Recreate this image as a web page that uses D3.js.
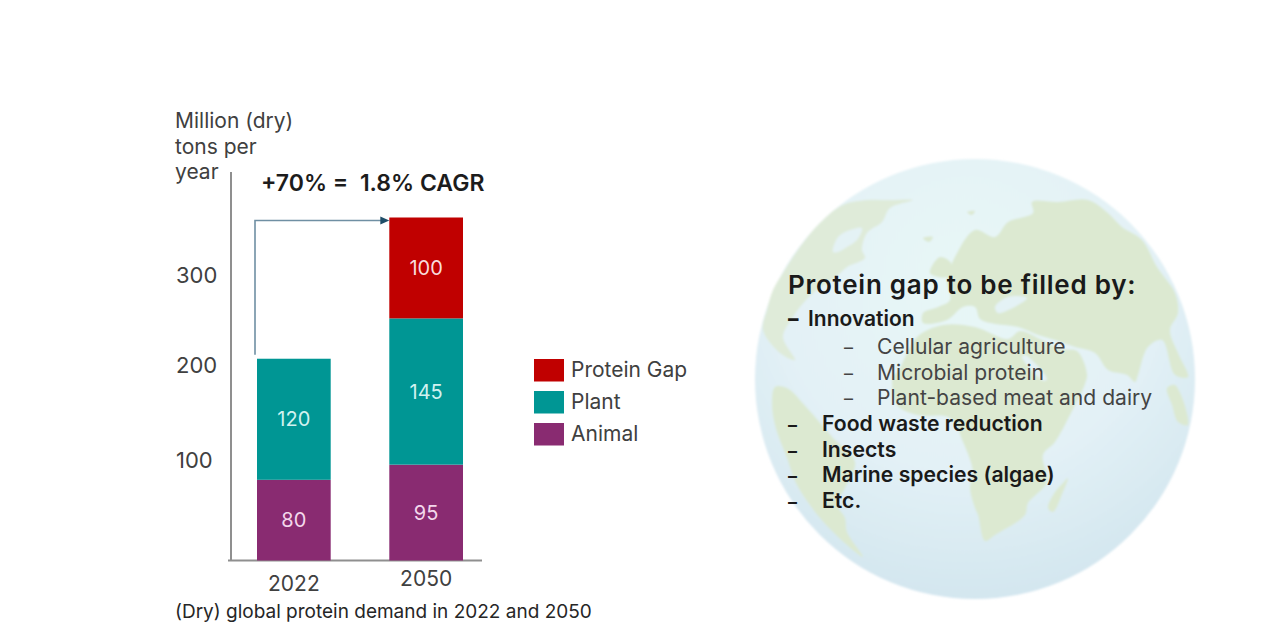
<!DOCTYPE html>
<html>
<head>
<meta charset="utf-8">
<script src="https://cdn.jsdelivr.net/npm/d3@7"></script>
<style>
  html, body { margin: 0; background: #fff; }
  text { font-family: Inter, "Open Sans", sans-serif; }
</style>
</head>
<body>
<svg id="chart"></svg>
<script>
const WIDTH = 1280;
const HEIGHT = 641;

// chart data
const years = ['2022', '2050'];
const seriesNames = ['Animal', 'Plant', 'Protein Gap'];
const animal = [80, 95];
const plant = [120, 145];
const proteinGap = [0, 100];
const yTicks = [100, 200, 300];
const legendOrder = ['Protein Gap', 'Plant', 'Animal'];

// text
const yTitle = ['Million (dry)', 'tons per', 'year'];
const growthLabel = '+70% =  1.8% CAGR';
const caption = '(Dry) global protein demand in 2022 and 2050';
const gapTitle = 'Protein gap to be filled by:';
const gapHead = 'Innovation';
const gapSub = ['Cellular agriculture', 'Microbial protein', 'Plant-based meat and dairy'];
const gapOther = ['Food waste reduction', 'Insects', 'Marine species (algae)', 'Etc.'];

// globe backdrop, traced in a 440 x 440 box
const northAmerica = [[28,114],[45,88],[65,64],[88,46],[112,41],[135,41],[158,41],[135,49],[127,63],[112,74],[107,91],[110,99],[92,108],[83,116],[72,124],[58,134],[45,148],[38,158],[28,178],[40,201],[25,194],[8,171],[12,151],[18,131]];
const land = [
  // south america
  [[17,243],[20,228],[32,229],[52,249],[78,279],[100,303],[90,329],[82,345],[90,359],[92,373],[108,398],[92,386],[65,359],[42,326],[32,299],[20,266]],
  // eurasia
  [[202,94],[220,71],[240,78],[253,63],[278,54],[277,43],[303,43],[333,41],[353,54],[367,68],[387,81],[402,108],[420,134],[423,154],[415,171],[423,194],[433,218],[420,216],[407,181],[393,188],[383,216],[380,223],[372,216],[353,211],[340,194],[320,188],[300,181],[283,176],[263,168],[240,165],[225,160],[220,148],[208,148],[192,161],[168,164],[168,154],[183,148],[195,141],[192,121]],
  // africa and arabia
  [[142,214],[162,178],[188,166],[220,168],[253,180],[265,172],[285,180],[305,190],[322,192],[332,215],[330,225],[320,246],[315,256],[300,283],[288,296],[292,323],[273,344],[270,356],[240,376],[230,382],[223,356],[220,349],[215,329],[218,313],[208,283],[195,259],[162,256],[142,246],[138,216]],
  // scandinavia
  [[185,98],[175,114],[192,118],[196,104]],
  // madagascar
  [[313,319],[308,333],[298,353],[293,349],[300,333],[308,324]],
  // iceland, svalbard
  [[168,79],[178,78],[174,83]],
  [[212,53],[220,52],[217,56]],
  // indonesia
  [[412,229],[420,226],[433,266],[423,263],[417,246]]
];
const seas = [
  // hudson bay
  [[78,93],[83,78],[95,71],[107,69],[102,81],[92,88],[83,93]],
  // black sea
  [[240,148],[253,138],[272,139],[263,146],[243,154]],
  // red sea
  [[267,198],[270,196],[292,220],[289,222]]
];

const svg = d3.select('#chart').attr('width', WIDTH).attr('height', HEIGHT);

const color = d3.scaleOrdinal()
  .domain(seriesNames)
  .range(['#892b71', '#009694', '#c00000']);
const labelColor = d3.scaleOrdinal()
  .domain(seriesNames)
  .range(['#f3d7ec', '#d2f2f0', '#f9dcdc']);

const x = d3.scaleBand().domain(years).range([257, 463]).paddingInner(0.443);
const y = d3.scaleLinear().domain([0, 340]).range([560.5, 217.5]);
// the tick labels in the picture do not sit on the bar scale
const tickScale = d3.scaleLinear().domain(yTicks).range([460, 365.5, 275]);

//    Globe    /////////////////////////////////////////////////////////////////////

const defs = svg.append('defs');
const oceanFill = defs.append('radialGradient')
  .attr('id', 'ocean').attr('cx', '48%').attr('cy', '28%').attr('r', '78%');
oceanFill.append('stop').attr('offset', '0%').attr('stop-color', '#e8f7f7');
oceanFill.append('stop').attr('offset', '55%').attr('stop-color', '#e3f1f6');
oceanFill.append('stop').attr('offset', '100%').attr('stop-color', '#d0e4ee');
defs.append('filter').attr('id', 'soft')
  .append('feGaussianBlur').attr('stdDeviation', 1);

const globeBox = 440;
const globeX = d3.scaleLinear().domain([0, globeBox]).range([755, 1195]);
const globeY = d3.scaleLinear().domain([0, globeBox]).range([159, 599]);
const outline = d3.line().x(d => globeX(d[0])).y(d => globeY(d[1]))
  .curve(d3.curveCatmullRomClosed.alpha(0.5));

const globe = svg.append('g').attr('filter', 'url(#soft)');
globe.append('circle')
  .attr('cx', globeX(globeBox / 2))
  .attr('cy', globeY(globeBox / 2))
  .attr('r', (globeX(globeBox) - globeX(0)) / 2)
  .attr('fill', 'url(#ocean)');
globe.append('path')
  .attr('d', outline(northAmerica))
  .attr('fill', '#dfebd9');
globe.selectAll('.land').data(land).enter().append('path')
  .attr('class', 'land')
  .attr('d', outline)
  .attr('fill', '#dce9d1');
globe.selectAll('.sea').data(seas).enter().append('path')
  .attr('class', 'sea')
  .attr('d', outline)
  .attr('fill', '#e4f2f5');

//    Axes    /////////////////////////////////////////////////////////////////////

svg.append('line')
  .attr('x1', 231).attr('x2', 231).attr('y1', 172).attr('y2', y(0))
  .attr('stroke', '#8f8f8f').attr('stroke-width', 2);
svg.append('line')
  .attr('x1', 228).attr('x2', 482).attr('y1', y(0)).attr('y2', y(0))
  .attr('stroke', '#8f8f8f').attr('stroke-width', 2);

const yAxis = svg.append('g')
  .attr('transform', 'translate(176,0)')
  .call(d3.axisRight(tickScale).tickValues(yTicks).tickSize(0).tickPadding(0));
yAxis.select('.domain').remove();
yAxis.selectAll('text')
  .style('font-family', 'Inter, sans-serif')
  .style('font-size', '22px')
  .attr('fill', '#404040');

// the 2022 label sits a little lower than the 2050 one
const xAxis = svg.append('g')
  .attr('transform', `translate(0,${y(0)})`)
  .call(d3.axisBottom(x).tickSize(0).tickPadding(0));
xAxis.select('.domain').remove();
xAxis.selectAll('text')
  .style('font-family', 'Inter, sans-serif')
  .style('font-size', '21px')
  .attr('fill', '#404040')
  .attr('dy', 0)
  .attr('y', (d, i) => i === 0 ? 30 : 25);

svg.append('g').selectAll('text').data(yTitle).enter().append('text')
  .attr('x', 175)
  .attr('y', (d, i) => 128 + i * 25.5)
  .attr('font-size', 21)
  .attr('fill', '#404040')
  .text(d => d);

//    Bars    /////////////////////////////////////////////////////////////////////

const rows = years.map((year, i) => ({
  year,
  Animal: animal[i],
  Plant: plant[i],
  'Protein Gap': proteinGap[i]
}));
const stacked = d3.stack().keys(seriesNames)(rows);

const layers = svg.append('g').selectAll('g').data(stacked).enter().append('g');

layers.selectAll('rect')
  .data(s => s.map(d => ({ key: s.key, d })).filter(c => c.d[1] > c.d[0]))
  .enter().append('rect')
  .attr('x', c => x(c.d.data.year))
  .attr('y', c => y(c.d[1]))
  .attr('width', x.bandwidth())
  .attr('height', c => y(c.d[0]) - y(c.d[1]))
  .attr('fill', c => color(c.key));

layers.selectAll('text')
  .data(s => s.map(d => ({ key: s.key, d })).filter(c => c.d[1] > c.d[0]))
  .enter().append('text')
  .attr('x', c => x(c.d.data.year) + x.bandwidth() / 2)
  .attr('y', c => y((c.d[0] + c.d[1]) / 2))
  .attr('dy', '0.36em')
  .attr('text-anchor', 'middle')
  .attr('font-size', 20)
  .attr('fill', c => labelColor(c.key))
  .text(c => c.d[1] - c.d[0]);

//    Growth arrow    /////////////////////////////////////////////////////////////////////

const total = i => animal[i] + plant[i] + proteinGap[i];
const arrowLeft = x(years[0]) - 2;
const arrowRight = x(years[1]);
const arrowTop = y(total(1)) + 3;
svg.append('path')
  .attr('d', `M${arrowLeft},${y(total(0)) - 4}V${arrowTop}H${arrowRight - 6}`)
  .attr('fill', 'none')
  .attr('stroke', '#6f8fa3')
  .attr('stroke-width', 1.6);
svg.append('path')
  .attr('d', `M${arrowRight},${arrowTop}l-9,-4v8z`)
  .attr('fill', '#1f4e68');

svg.append('text')
  .attr('x', 261).attr('y', 191)
  .attr('font-size', 23).attr('font-weight', 600)
  .attr('fill', '#1c1c1c')
  .style('white-space', 'pre')
  .text(growthLabel);

//    Legend    /////////////////////////////////////////////////////////////////////

const legendY = d3.scalePoint().domain(legendOrder).range([359, 423]);
const legend = svg.append('g').selectAll('g').data(legendOrder).enter().append('g')
  .attr('transform', d => `translate(534,${legendY(d)})`);
legend.append('rect')
  .attr('width', 30).attr('height', 22.5)
  .attr('fill', d => color(d));
legend.append('text')
  .attr('x', 37).attr('y', 18)
  .attr('font-size', 21)
  .attr('fill', '#404040')
  .text(d => d);

svg.append('text')
  .attr('x', 175).attr('y', 618)
  .attr('font-size', 19)
  .attr('fill', '#262626')
  .text(caption);

//    Globe text    /////////////////////////////////////////////////////////////////////

svg.append('text')
  .attr('x', 788).attr('y', 294)
  .attr('font-size', 26).attr('font-weight', 600)
  .attr('letter-spacing', 0.74)
  .attr('fill', '#1a1a1a')
  .text(gapTitle);

svg.append('text')
  .attr('x', 788).attr('y', 326)
  .attr('font-size', 21).attr('font-weight', 800)
  .attr('fill', '#1a1a1a')
  .text('–');
svg.append('text')
  .attr('x', 808).attr('y', 326)
  .attr('font-size', 21).attr('font-weight', 600)
  .attr('fill', '#1a1a1a')
  .text(gapHead);

const lineY = d3.scaleLinear().domain([0, 6]).range([354, 508]);

const subLines = svg.append('g').selectAll('g').data(gapSub).enter().append('g')
  .attr('transform', (d, i) => `translate(0,${lineY(i)})`)
  .attr('font-size', 21.1)
  .attr('fill', '#444');
subLines.append('text').attr('x', 844).attr('font-size', 18).text('–');
subLines.append('text').attr('x', 877).text(d => d);

const otherLines = svg.append('g').selectAll('g').data(gapOther).enter().append('g')
  .attr('transform', (d, i) => `translate(0,${lineY(i + gapSub.length)})`)
  .attr('font-size', 21.2)
  .attr('font-weight', 600)
  .attr('fill', '#1a1a1a');
otherLines.append('text').attr('x', 788).attr('font-size', 18).text('–');
otherLines.append('text').attr('x', 822).text(d => d);
</script>
</body>
</html>
